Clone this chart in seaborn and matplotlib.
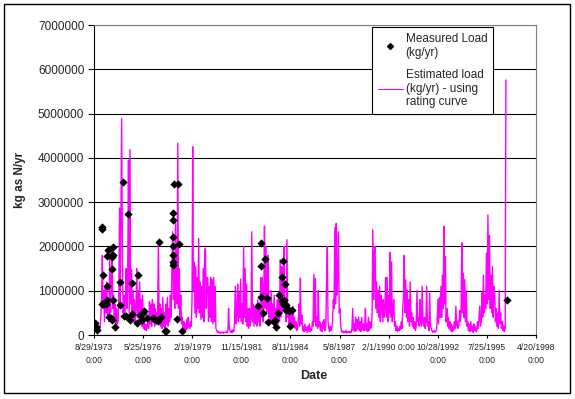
import matplotlib
matplotlib.use('Agg')
import matplotlib.pyplot as plt
import matplotlib.patches as patches
from matplotlib.lines import Line2D
import numpy as np
import pandas as pd
import seaborn as sns

# estimated load (thousand kg/yr), semi-monthly from 15 Sep 1973, one row per year
est_start = '1973-09-15'
est_load_k = [
    100, 250, 60, 150, 80, 120, 200,  # 1973
    150, 400, 900, 1800, 600, 1000, 300, 1100, 500, 1200, 400, 700, 300, 1750, 500, 1100, 2000, 600, 900, 300, 700, 200, 600, 250,
    300, 800, 2870, 600, 2780, 4890, 1650, 500, 900, 400, 800, 1500, 600, 1200, 3950, 500, 4190, 700, 1470, 400, 1000, 300, 800, 250,
    600, 1500, 400, 1000, 300, 1200, 250, 800, 200, 900, 150, 300, 120, 250, 100, 200, 350, 150, 750, 250, 700, 200, 800, 300,
    700, 200, 600, 250, 500, 300, 2100, 400, 700, 200, 600, 150, 850, 200, 500, 150, 700, 250, 850, 200, 600, 300, 900, 400,
    1540, 2330, 800, 1800, 600, 2530, 900, 700, 4330, 600, 1500, 400, 900, 250, 400, 150, 300, 100, 250, 120, 350, 150, 400, 200,
    150, 300, 200, 800, 4250, 1000, 1650, 500, 1550, 400, 1300, 600, 2180, 500, 1200, 350, 1100, 400, 1500, 300, 1900, 1960, 600, 1300,
    1280, 300, 1100, 400, 1300, 300, 1250, 250, 1300, 300, 1100, 150, 100, 60, 80, 50, 70, 40, 60, 50, 70, 40, 60, 50,
    60, 80, 50, 100, 600, 150, 80, 60, 100, 50, 120, 80, 300, 1100, 250, 500, 1150, 300, 950, 400, 1260, 300, 700, 250,
    2000, 400, 1500, 300, 1150, 200, 600, 150, 600, 200, 400, 2330, 300, 700, 200, 650, 250, 700, 200, 800, 300, 550, 200, 1300,
    400, 1300, 300, 900, 2460, 600, 2000, 500, 900, 1800, 400, 800, 250, 1000, 300, 700, 250, 900, 200, 600, 300, 800, 250, 850,
    300, 1700, 400, 1550, 500, 900, 2000, 500, 800, 300, 2150, 400, 700, 200, 600, 250, 500, 150, 650, 200, 400, 150, 300, 100,
    150, 300, 700, 200, 1280, 250, 450, 100, 200, 80, 250, 100, 180, 60, 200, 90, 250, 80, 150, 100, 300, 200, 1370, 300,
    1280, 200, 400, 150, 1000, 200, 300, 100, 250, 80, 300, 150, 350, 100, 200, 1100, 2000, 300, 150, 80, 200, 100, 150, 300,
    800, 600, 2420, 700, 2520, 900, 1300, 2330, 500, 600, 200, 100, 60, 90, 50, 80, 60, 100, 50, 70, 60, 80, 50, 70,
    60, 150, 600, 100, 250, 80, 400, 100, 350, 150, 400, 100, 300, 80, 400, 120, 250, 100, 200, 600, 100, 250, 80, 400,
    100, 300, 150, 200, 500, 2380, 800, 1860, 2000, 600, 1200, 500, 1000, 400, 1100, 300, 900, 700, 300, 800, 400, 600, 1300, 400,
    1300, 300, 900, 500, 1860, 400, 1650, 300, 500, 800, 200, 300, 100, 200, 80, 150, 100, 200, 120, 300, 150, 600, 900, 1800,
    500, 1240, 400, 1000, 300, 800, 200, 1200, 300, 500, 200, 400, 150, 300, 100, 200, 1000, 300, 400, 200, 800, 300, 200, 1100,
    300, 200, 400, 150, 300, 1100, 200, 300, 100, 950, 200, 150, 100, 60, 80, 100, 60, 80, 120, 300, 800, 250, 850, 400,
    1100, 400, 1350, 600, 2450, 700, 1770, 300, 600, 200, 400, 150, 300, 100, 250, 80, 200, 100, 300, 150, 650, 200, 300, 150,
    200, 550, 300, 600, 2080, 500, 1400, 400, 1250, 300, 1000, 200, 300, 100, 250, 80, 300, 100, 200, 60, 250, 100, 200, 80,
    100, 300, 150, 400, 650, 200, 300, 950, 400, 1350, 500, 900, 600, 1850, 700, 2710, 800, 2250, 600, 1350, 500, 1550, 400, 1100,
    900, 300, 600, 200, 500, 150, 1000, 250, 500, 150, 300, 100, 200, 80, 150, 5760,  # 1996
]

# measured load: decimal year, kg/yr
meas_year = [
    1973.72, 1973.77, 1973.84, 1974.09, 1974.09, 1974.16, 1974.09, 1974.23, 1974.33, 1974.38,
    1974.38, 1974.42, 1974.38, 1974.51, 1974.60, 1974.66, 1974.64, 1974.64, 1974.70, 1974.70,
    1974.66, 1974.70, 1974.84, 1975.12, 1975.10, 1975.26, 1975.35, 1975.44, 1975.57, 1975.68,
    1975.76, 1975.77, 1976.03, 1976.12, 1976.23, 1976.37, 1976.42, 1976.31, 1976.61, 1976.92,
    1977.01, 1977.10, 1977.20, 1977.26, 1977.42, 1977.61, 1977.66, 1978.04, 1978.04, 1978.04,
    1978.04, 1978.04, 1978.06, 1978.08, 1978.13, 1978.35, 1978.31, 1978.40, 1978.55,
    1982.80, 1982.95, 1982.95, 1982.95, 1983.08, 1983.17, 1983.28, 1983.35, 1983.74, 1983.69,
    1983.82, 1983.91, 1983.97, 1984.15, 1984.21, 1984.30, 1984.12, 1984.24, 1984.21, 1984.34,
    1984.43, 1984.34, 1984.52, 1984.67, 1984.56, 1996.67,
]
meas_load = [
    280000, 190000, 110000, 2450000, 2390000, 1360000, 710000, 710000, 710000, 1100000,
    1780000, 1920000, 790000, 410000, 380000, 350000, 1800000, 1760000, 1990000, 1800000,
    1500000, 790000, 180000, 1200000, 680000, 3450000, 430000, 430000, 2730000, 350000,
    1180000, 470000, 270000, 1350000, 450000, 500000, 550000, 350000, 380000, 380000,
    360000, 340000, 320000, 2090000, 410000, 100000, 100000, 1570000, 1650000, 1800000,
    2000000, 2220000, 2600000, 2750000, 3410000, 3410000, 360000, 2050000, 100000,
    650000, 2070000, 1560000, 860000, 500000, 1710000, 840000, 290000, 340000, 290000,
    190000, 500000, 900000, 1300000, 1680000, 1150000, 770000, 800000, 710000, 670000,
    600000, 570000, 550000, 570000, 200000, 780000,
]

tick_dates = ['1973-08-29', '1976-05-25', '1979-02-19', '1981-11-15', '1984-08-11',
              '1987-05-08', '1990-02-01', '1992-10-28', '1995-07-25', '1998-04-20']
tick_labels = ['8/29/1973\n0:00', '5/25/1976\n0:00', '2/19/1979\n0:00', '11/15/1981\n0:00',
               '8/11/1984\n0:00', '5/8/1987\n0:00', '2/1/1990 0:00', '10/28/1992\n0:00',
               '7/25/1995\n0:00', '4/20/1998\n0:00']
y_ticks = [0, 1000000, 2000000, 3000000, 4000000, 5000000, 6000000, 7000000]

legend_labels = ['Measured Load\n(kg/yr)', 'Estimated load\n(kg/yr) - using\nrating curve']

sns.set_theme(style='white')
plt.rcParams['font.family'] = ['Liberation Sans', 'DejaVu Sans']

est_dates = pd.date_range(est_start, periods=len(est_load_k), freq='SMS')
est_load = np.array(est_load_k) * 1000
meas_dates = pd.Timestamp('1973-01-01') + pd.to_timedelta((np.array(meas_year) - 1973) * 365.25, unit='D')

fig = plt.figure(figsize=(5.75, 3.99), dpi=100)
ax = fig.add_axes([94 / 575, 1 - 335 / 399, (536 - 94) / 575, (335 - 25) / 399])

sns.lineplot(x=est_dates, y=est_load, ax=ax, color='#FF00FF', linewidth=1.0, estimator=None)
sns.scatterplot(x=meas_dates, y=meas_load, ax=ax, marker='D', color='black', s=18, linewidth=0, zorder=3)

ax.set_xlim(pd.Timestamp(tick_dates[0]), pd.Timestamp(tick_dates[-1]))
ax.set_ylim(0, 7000000)
ax.set_yticks(y_ticks)
ax.set_yticklabels([str(v) for v in y_ticks], fontsize=8.5)
ax.set_xticks(pd.to_datetime(tick_dates))
ax.set_xticklabels(tick_labels, fontsize=6.2, linespacing=1.6)
ax.tick_params(axis='y', direction='out', length=4.5, width=0.8, color='black', pad=2.5, left=True)
ax.tick_params(axis='x', direction='out', length=2.5, width=0.8, color='black', pad=3, bottom=True)
ax.set_xlabel('')
ax.set_ylabel('')

ax.grid(axis='y', color='black', linewidth=0.8)
ax.grid(axis='x', visible=False)
ax.set_axisbelow(True)
for side in ['left', 'bottom']:
    ax.spines[side].set_color('black')
    ax.spines[side].set_linewidth(0.8)
for side in ['top', 'right']:
    ax.spines[side].set_color('#808080')
    ax.spines[side].set_linewidth(0.8)

handles = [Line2D([], [], marker='D', color='black', linestyle='none', markersize=3),
           Line2D([], [], color='#FF00FF', linewidth=0.8)]
leg = ax.legend(handles, legend_labels, loc='upper left',
                bbox_to_anchor=(372 / 575, 1 - 27 / 399), bbox_transform=fig.transFigure,
                fontsize=8.5, frameon=True, fancybox=False, edgecolor='black', framealpha=1,
                borderpad=0.5, handlelength=2.1, handletextpad=0.25, labelspacing=0.85,
                borderaxespad=0)
leg.get_frame().set_linewidth(0.8)

fig.text(20 / 575, 1 - 180 / 399, 'kg as N/yr', rotation=90, ha='center', va='center',
         fontsize=8.5, fontweight='bold')
fig.text(314 / 575, 1 - 376 / 399, 'Date', ha='center', va='center', fontsize=9, fontweight='bold')

fig.add_artist(patches.Rectangle((4 / 575, 1 - 393 / 399), 566 / 575, 389 / 399,
                                 transform=fig.transFigure, fill=False, edgecolor='black', linewidth=1))

plt.savefig('out.png', dpi=100)
